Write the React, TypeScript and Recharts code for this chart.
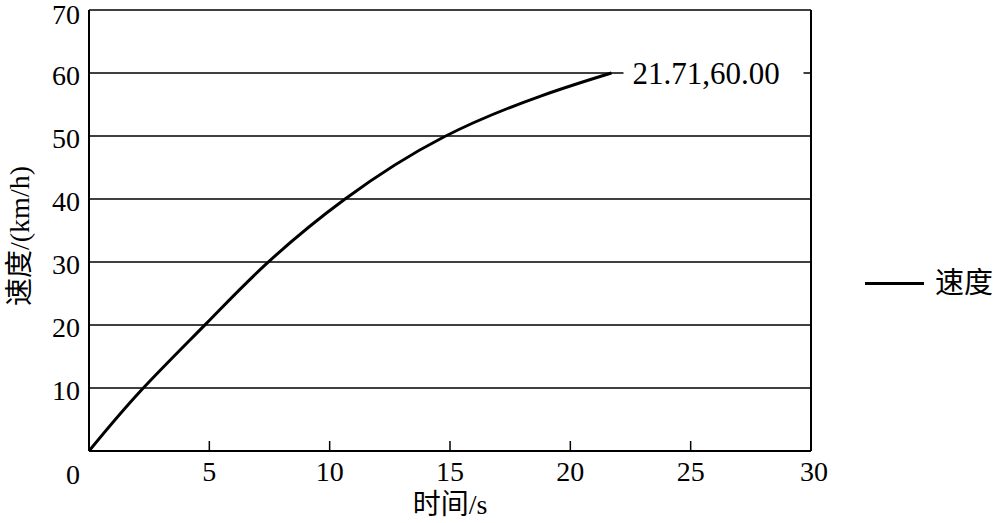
import React from "react";
import { LineChart, Line, XAxis, YAxis, CartesianGrid, ReferenceLine } from "recharts";

const timeValues = [0, 2.16, 4.89, 7.31, 10.64, 14.72, 18.74, 21.71];
const speedValues = [0, 9.6, 20.3, 29.5, 40, 49.8, 56.3, 60];
const xTicks = [0, 5, 10, 15, 20, 25, 30];
const yTicks = [0, 10, 20, 30, 40, 50, 60, 70];
const seriesName = "速度";
const xLabel = "时间/s";
const yLabel = "速度/(km/h)";

const data = timeValues.map((t, i) => ({ t, v: speedValues[i] }));

const serif = "'Liberation Serif', 'Times New Roman', serif";
const cjk = "'Liberation Serif', 'Noto Sans CJK SC', serif";

const XTick = (props: any) => {
  const { x, y, payload } = props;
  const v = payload.value;
  if (v === 0) return null;
  return (
    <g>
      {v !== 30 && <line x1={x} x2={x} y1={y - 10} y2={y} stroke="#000" strokeWidth={1.5} />}
      <text x={v === 30 ? x + 3 : x} y={y + 30} textAnchor="middle" fontFamily={serif} fontSize={28} fill="#000">
        {v}
      </text>
    </g>
  );
};

const YTick = (props: any) => {
  const { x, y, payload } = props;
  const v = payload.value;
  if (v === 0) {
    return (
      <text x={x - 9} y={y + 33} textAnchor="end" fontFamily={serif} fontSize={28} fill="#000">
        0
      </text>
    );
  }
  return (
    <text x={x - 9} y={v === 70 ? y + 14 : y + 12} textAnchor="end" fontFamily={serif} fontSize={28} fill="#000">
      {v}
    </text>
  );
};

const EndLabel = (props: any) => {
  const { x, y, index } = props;
  if (index !== data.length - 1) return null;
  const d = data[index];
  return (
    <g>
      <rect x={x + 12} y={y - 15} width={180} height={30} fill="#fff" />
      <text x={x + 21} y={y + 11} fontFamily={serif} fontSize={31} fill="#000">
        {`${d.t.toFixed(2)},${d.v.toFixed(2)}`}
      </text>
    </g>
  );
};

const XLabel = (props: any) => {
  const vb = props.viewBox || {};
  const cx = (vb.x ?? 89) + (vb.width ?? 722) / 2;
  return (
    <text x={cx} y={514} textAnchor="middle" fontFamily={cjk} fontSize={28} fill="#000">
      {xLabel}
    </text>
  );
};

const YLabel = () => {
  const cy = 236;
  const cx = 19;
  return (
    <text
      x={cx}
      y={cy}
      transform={`rotate(-90 ${cx} ${cy})`}
      textAnchor="middle"
      dominantBaseline="central"
      fontFamily={cjk}
      fontSize={28}
      fill="#000"
    >
      {yLabel}
    </text>
  );
};

export default function App() {
  return (
    <div style={{ position: "absolute", left: 0, top: 0, width: 997, height: 523, background: "#fff" }}>
      <LineChart width={997} height={523} data={data} margin={{ top: 10, right: 186, bottom: 0, left: 0 }}>
        <CartesianGrid vertical={false} stroke="#000" strokeWidth={1.5} />
        <XAxis
          dataKey="t"
          type="number"
          domain={[0, 30]}
          ticks={xTicks}
          interval={0}
          height={72}
          tickSize={0}
          tickMargin={0}
          tickLine={false}
          axisLine={{ stroke: "#000", strokeWidth: 2 }}
          tick={<XTick />}
          label={<XLabel />}
        />
        <YAxis
          type="number"
          domain={[0, 70]}
          ticks={yTicks}
          interval={0}
          width={89}
          tickSize={0}
          tickMargin={0}
          tickLine={false}
          axisLine={{ stroke: "#000", strokeWidth: 2 }}
          tick={<YTick />}
          label={<YLabel />}
        />
        <ReferenceLine x={30} stroke="#000" strokeWidth={2} />
        <Line
          type="natural"
          dataKey="v"
          name={seriesName}
          stroke="#000"
          strokeWidth={3}
          dot={false}
          isAnimationActive={false}
          label={<EndLabel />}
        />
      </LineChart>
      <div style={{ position: "absolute", left: 865, top: 266, height: 34, display: "flex", alignItems: "center" }}>
        <div style={{ width: 59, height: 3, background: "#000" }} />
        <span style={{ marginLeft: 11, fontFamily: cjk, fontSize: 29, color: "#000", lineHeight: "34px" }}>{seriesName}</span>
      </div>
    </div>
  );
}
